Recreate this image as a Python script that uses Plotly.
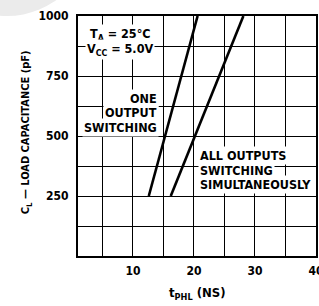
import plotly.graph_objects as go

# Data
one_output_tphl = [12.6, 20.6]
one_output_cl = [250, 1000]
all_outputs_tphl = [16.2, 28.1]
all_outputs_cl = [250, 1000]

x_tickvals = [5, 10, 15, 20, 25, 30, 35, 40]
x_ticktext = ["", "10", "", "20", "", "30", "", "40"]
y_tickvals = [125, 250, 375, 500, 625, 750, 875, 1000]
y_ticktext = ["", "250", "", "500", "", "750", "", "1000"]

FONT = "DejaVu Sans Condensed, sans-serif"

fig = go.Figure()
fig.add_trace(go.Scatter(x=one_output_tphl, y=one_output_cl, mode="lines",
                         line=dict(color="black", width=2.6), showlegend=False))
fig.add_trace(go.Scatter(x=all_outputs_tphl, y=all_outputs_cl, mode="lines",
                         line=dict(color="black", width=2.6), showlegend=False))

annot_font = dict(family=FONT, size=12.5, color="black", weight="bold")

def label(text, x, y, xanchor):
    fig.add_annotation(x=x, y=y, xref="x", yref="y", text=text, showarrow=False,
                       xanchor=xanchor, yanchor="middle", bgcolor="white",
                       borderpad=1, font=annot_font)

label("T<sub>A</sub> = 25°C", 2.7, 925, "left")
label("V<sub>CC</sub> = 5.0V", 2.1, 860, "left")
label("ONE", 14.3, 658, "right")
label("OUTPUT", 14.3, 598, "right")
label("SWITCHING", 14.3, 537, "right")
label("ALL OUTPUTS", 20.7, 417, "left")
label("SWITCHING", 20.7, 358, "left")
label("SIMULTANEOUSLY", 20.7, 300, "left")

fig.add_annotation(x=-0.215, y=0.515, xref="paper", yref="paper",
                   text="C<sub>L</sub> — LOAD CAPACITANCE (pF)", textangle=-90,
                   showarrow=False, xanchor="center", yanchor="middle",
                   font=dict(family=FONT, size=11, color="black", weight="bold"))
fig.add_annotation(x=0.5, y=-0.155, xref="paper", yref="paper",
                   text="t<sub>PHL</sub> (NS)", showarrow=False,
                   xanchor="center", yanchor="middle",
                   font=dict(family=FONT, size=13, color="black", weight="bold"))

# faint grey arc in the top-left corner of the scan
fig.add_shape(type="circle", xref="paper", yref="paper",
              x0=-0.651, x1=0.055, y0=1.0, y1=1.70,
              fillcolor="#ebebeb", line=dict(width=0), layer="below")

axis_common = dict(showgrid=True, gridcolor="black", gridwidth=1.4,
                   zeroline=False, showline=True, linecolor="black",
                   linewidth=2, mirror=True, ticks="", ticklabeloverflow="allow",
                   tickfont=dict(family=FONT, size=12, color="black", weight="bold"))

fig.update_xaxes(range=[1, 40], tickmode="array", tickvals=x_tickvals,
                 ticktext=x_ticktext, ticklabelstandoff=3, **axis_common)
fig.update_yaxes(range=[0, 1000], tickmode="array", tickvals=y_tickvals,
                 ticktext=y_ticktext, ticklabelstandoff=5, **axis_common)

fig.update_layout(width=319, height=306,
                  margin=dict(l=78, r=3, t=16, b=50, autoexpand=False),
                  paper_bgcolor="white", plot_bgcolor="white")

fig.write_html("out.html", config={"displayModeBar": False},
               post_script="document.body.style.margin='0';document.body.style.overflow='hidden';")
